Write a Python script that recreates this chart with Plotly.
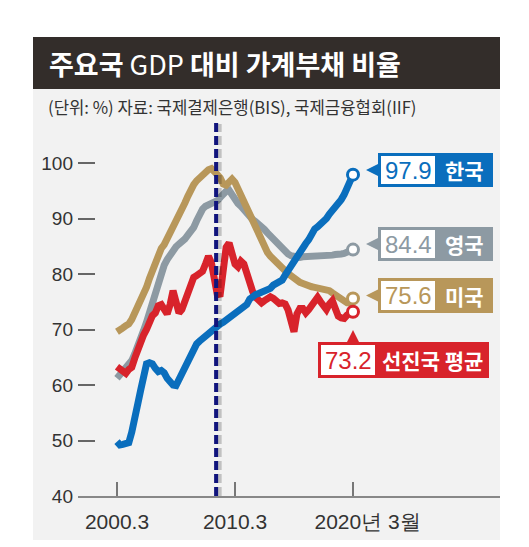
import pandas as pd
import plotly.graph_objects as go

# quarterly, 2000 Q1 (March) .. 2020 Q1
periods = pd.period_range("2000Q1", "2020Q1", freq="Q")
quarters = [p.year + (p.quarter - 1) / 4 for p in periods]

korea = [49.8, 49.2, 49.3, 49.4, 49.6, 51.5, 53.5, 56.5, 59.0, 61.5,
         63.8, 64.0, 63.8, 63.0, 62.4, 62.6, 62.2, 61.2, 60.6, 60.0,
         59.9, 61.0, 62.0, 63.2, 64.3, 65.0, 65.8, 67.4, 67.9, 68.4,
         68.8, 69.3, 69.8, 70.4, 70.7, 71.0, 71.3, 71.7, 72.0, 72.4,
         72.9, 73.2, 73.6, 74.0, 74.5, 75.5, 76.1, 76.3, 76.5, 76.7,
         76.9, 77.0, 77.4, 78.0, 78.4, 78.7, 78.9, 79.8, 80.7, 81.5,
         82.3, 83.2, 84.0, 84.7, 85.5, 86.2, 87.3, 88.1, 88.5, 88.9,
         89.4, 90.0, 90.8, 91.4, 91.9, 92.7, 93.4, 94.3, 95.3, 96.4,
         97.9]

uk = [61.2, 61.8, 62.4, 63.0, 63.6, 64.4, 65.6, 66.8, 68.3, 69.8,
      71.3, 73.0, 74.8, 76.8, 78.7, 80.3, 81.6, 82.6, 83.5, 84.3,
      84.9, 85.4, 85.8, 86.3, 87.0, 87.6, 88.4, 89.6, 90.8, 91.7,
      92.2, 92.4, 92.6, 92.8, 93.2, 93.8, 94.4, 94.9, 95.1, 94.3,
      93.2, 92.7, 92.2, 91.5, 90.9, 90.3, 89.8, 89.4, 89.0, 88.5,
      88.0, 87.4, 86.8, 86.3, 85.8, 85.2, 84.6, 84.0, 83.6, 83.3,
      83.1, 83.0, 83.0, 83.1, 83.1, 83.3, 83.4, 83.3, 83.2, 83.1,
      83.1, 83.2, 83.3, 83.4, 83.5, 83.4, 83.6, 83.7, 83.9, 84.1,
      84.4]

usa = [69.6, 69.8, 70.3, 70.7, 71.0, 71.8, 73.0, 74.0, 74.8, 76.0,
       77.6, 79.2, 80.6, 82.0, 83.5, 84.6, 85.3, 86.3, 87.6, 88.8,
       89.7, 90.6, 91.8, 92.8, 94.0, 95.2, 96.1, 96.8, 97.4, 97.9,
       98.4, 98.8, 99.0, 98.6, 97.9, 97.3, 96.2, 96.0, 96.8, 97.1,
       96.5, 95.3, 94.0, 92.8, 91.7, 90.6, 89.4, 88.2, 86.9, 85.6,
       84.6, 83.9, 83.2, 82.6, 82.2, 81.7, 81.2, 80.6, 80.1, 79.6,
       79.2, 78.8, 78.5, 78.3, 78.0, 77.8, 77.7, 77.6, 77.5, 77.4,
       77.3, 77.2, 77.0, 76.6, 76.2, 75.8, 75.3, 75.0, 74.8, 74.8,
       75.6]

advanced = [63.3, 63.0, 62.4, 62.1, 62.8, 63.2, 64.8, 66.2, 68.2, 69.0,
            70.0, 71.5, 72.5, 73.0, 74.3, 74.5, 73.8, 72.8, 74.5, 77.0,
            75.0, 73.0, 73.6, 75.2, 76.8, 78.0, 79.4, 79.7, 80.0, 80.5,
            81.8, 83.2, 82.0, 78.0, 76.3, 76.4, 80.0, 84.8, 85.6, 84.0,
            81.8, 81.3, 82.3, 81.8, 80.0, 78.0, 76.8, 75.8, 75.4, 74.8,
            75.2, 75.6, 75.9, 75.6, 75.0, 74.7, 74.8, 74.6, 73.5, 71.5,
            69.6, 72.8, 73.8, 73.8, 73.0, 73.6, 74.4, 75.4, 75.8, 75.0,
            74.4, 73.6, 74.6, 75.2, 73.8, 72.4, 72.1, 72.0, 72.6, 73.0,
            73.2]

crisis = 2008.4  # 글로벌 금융위기
tick_years = [2000, 2010, 2020]
tick_text = ["2000.3", "2010.3", "\u00a0\u00a0\u00a0\u00a0\u00a02020년 3월"]

series = [
    ("영국", uk, "#8d9aa3"),
    ("미국", usa, "#b8975a"),
    ("선진국 평균", advanced, "#d8232b"),
    ("한국", korea, "#0a6ebd"),
]

KR = "Noto Sans CJK KR"
NUM = "Liberation Sans Narrow, Liberation Sans, sans-serif"

# the page body has an 8px margin, so the figure starts at (8, 8)
OFF = 8
W, H = 529 - OFF, 547 - OFF
# plot area in page pixels
L, R, T, B = 78, 500, 117, 496


def px(x):
    return (x - L) / (R - L)


def py(y):
    return (B - y) / (B - T)


fig = go.Figure()

for name, vals, color in series:
    fig.add_trace(go.Scatter(x=quarters, y=vals, mode="lines", name=name,
                             line=dict(color=color, width=7),
                             showlegend=False, hoverinfo="skip"))
for name, vals, color in series:
    fig.add_trace(go.Scatter(x=[quarters[-1]], y=[vals[-1]], mode="markers",
                             marker=dict(size=11, color="white",
                                         line=dict(color=color, width=3)),
                             showlegend=False, hoverinfo="skip"))

shapes = []
# background panel + title bar
shapes.append(dict(type="rect", xref="paper", yref="paper", layer="below",
                   x0=px(33), x1=px(500), y0=py(540), y1=py(89),
                   fillcolor="#f2f2f2", line=dict(width=0)))
shapes.append(dict(type="rect", xref="paper", yref="paper", layer="below",
                   x0=px(33), x1=px(500), y0=py(89), y1=py(37),
                   fillcolor="#332d2a", line=dict(width=0)))
# crisis line with shadow
shapes.append(dict(type="line", xref="x", yref="paper",
                   x0=crisis + 0.3, x1=crisis + 0.3, y0=0, y1=py(124),
                   line=dict(color="rgba(0,0,0,0.2)", width=4, dash="9px,4px")))
shapes.append(dict(type="line", xref="x", yref="paper",
                   x0=crisis, x1=crisis, y0=0, y1=py(122),
                   line=dict(color="#10147d", width=4, dash="9px,4px")))

annotations = []
labels = [
    # name, value, color, outer box (x0, x1, y0, y1), inner box right edge, pointer
    ("한국", korea[-1], "#0a6ebd", (378, 493, 153, 187), 435, "left"),
    ("영국", uk[-1], "#8d9aa3", (378, 493, 227, 261), 435, "left"),
    ("미국", usa[-1], "#b8975a", (378, 493, 278, 313), 435, "left"),
    ("선진국 평균", advanced[-1], "#d8232b", (318, 489, 342, 378), 375, "up"),
]
for name, val, color, (x0, x1, y0, y1), xin, ptr in labels:
    shapes.append(dict(type="rect", xref="paper", yref="paper",
                       x0=px(x0), x1=px(x1), y0=py(y1), y1=py(y0),
                       fillcolor=color, line=dict(width=0)))
    shapes.append(dict(type="rect", xref="paper", yref="paper",
                       x0=px(x0 + 3), x1=px(xin), y0=py(y1 - 3), y1=py(y0 + 3),
                       fillcolor="white", line=dict(width=0)))
    yc = (y0 + y1) / 2
    if ptr == "left":
        path = f"M {px(x0)},{py(yc - 6)} L {px(x0 - 12)},{py(yc)} L {px(x0)},{py(yc + 6)} Z"
    else:
        path = f"M {px(347)},{py(y0)} L {px(353)},{py(y0 - 12)} L {px(359)},{py(y0)} Z"
    shapes.append(dict(type="path", xref="paper", yref="paper", path=path,
                       fillcolor=color, line=dict(width=0)))
    annotations.append(dict(xref="paper", yref="paper", x=px((x0 + 3 + xin) / 2), y=py(yc),
                            xanchor="center", yanchor="middle",
                            text=f"{val:.1f}", showarrow=False,
                            font=dict(family="Liberation Sans, Arial, sans-serif",
                                      size=24, color=color)))
    annotations.append(dict(xref="paper", yref="paper", x=px((xin + x1) / 2), y=py(yc),
                            xanchor="center", yanchor="middle",
                            text=f"<b>{name}</b>", showarrow=False,
                            font=dict(family=KR, size=21, color="white")))

annotations.append(dict(xref="paper", yref="paper", x=px(47), y=py(64),
                        xanchor="left", yanchor="middle", showarrow=False,
                        text="<b>주요국</b> GDP <b>대비 가계부채 비율</b>",
                        font=dict(family=KR, size=27, color="white")))
annotations.append(dict(xref="paper", yref="paper", x=px(46), y=py(107),
                        xanchor="left", yanchor="middle", showarrow=False,
                        text="(단위: %) 자료: 국제결제은행(BIS), 국제금융협회(IIF)",
                        font=dict(family=KR, size=16.7, color="#333333")))

fig.update_layout(
    width=W, height=H,
    margin=dict(l=L - OFF, r=W - (R - OFF), t=T - OFF, b=H - (B - OFF), pad=0),
    paper_bgcolor="white", plot_bgcolor="rgba(0,0,0,0)",
    shapes=shapes, annotations=annotations, hovermode=False,
    xaxis=dict(range=[2000 - (117 - L) / 11.8, 2000 + (R - 117) / 11.8],
               tickvals=tick_years, ticktext=tick_text,
               ticks="inside", ticklen=14, tickwidth=1.5, tickcolor="#777777",
               showline=True, linecolor="#888888", linewidth=1.5,
               showgrid=False, zeroline=False, ticklabelstandoff=6,
               tickfont=dict(family=NUM, size=21, color="#333333")),
    yaxis=dict(range=[40, 40 + (B - T) / 5.55],
               tickvals=[40, 50, 60, 70, 80, 90, 100],
               ticks="inside", ticklen=17, tickwidth=1.5, tickcolor="#666666",
               showline=False, showgrid=False, zeroline=False,
               ticklabelstandoff=4,
               tickfont=dict(family=NUM, size=19, color="#333333")),
)

fig.write_html("out.html")
